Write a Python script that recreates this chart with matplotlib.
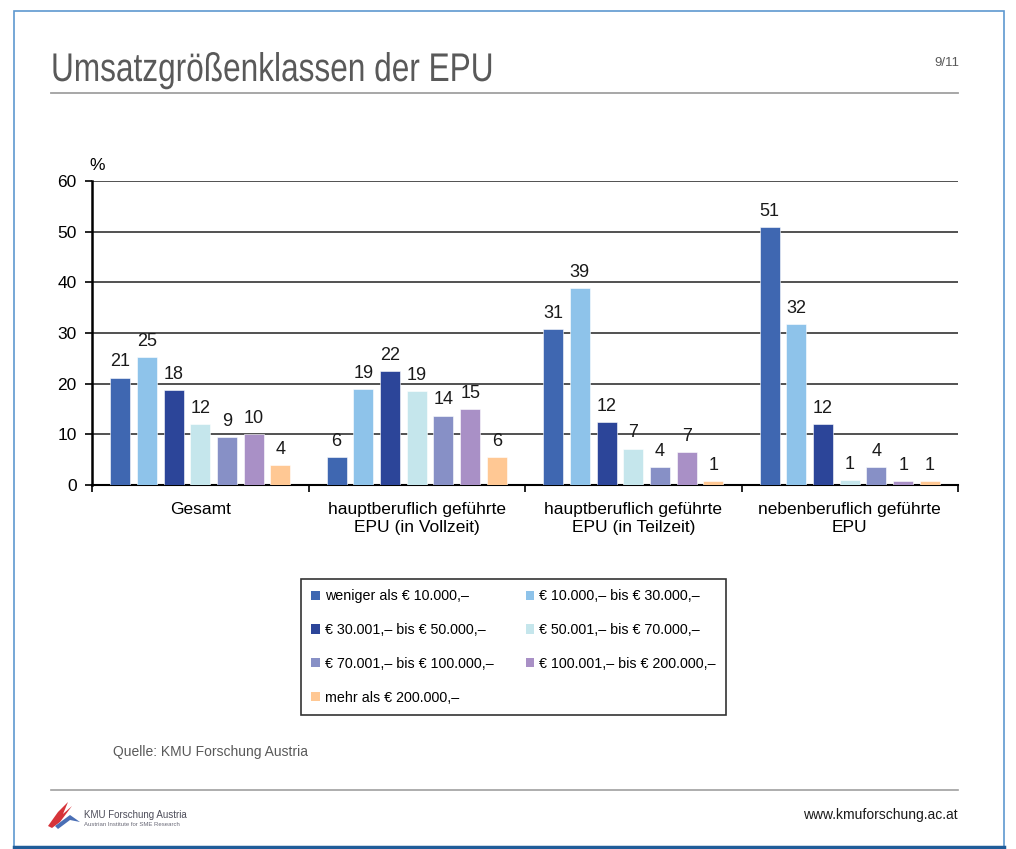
"""Umsatzgrößenklassen der EPU - grouped bar chart slide."""

import matplotlib.pyplot as plt
import numpy as np
from matplotlib.font_manager import FontProperties
from matplotlib.lines import Line2D
from matplotlib.patches import Patch, PathPatch, Polygon, Rectangle
from matplotlib.textpath import TextPath
from matplotlib.transforms import Affine2D

W, H = 1016, 849

GROUPS = [
    "Gesamt",
    "hauptberuflich geführte\nEPU (in Vollzeit)",
    "hauptberuflich geführte\nEPU (in Teilzeit)",
    "nebenberuflich geführte\nEPU",
]

SERIES_LABELS = [
    "weniger als € 10.000,–",
    "€ 10.000,– bis € 30.000,–",
    "€ 30.001,– bis € 50.000,–",
    "€ 50.001,– bis € 70.000,–",
    "€ 70.001,– bis € 100.000,–",
    "€ 100.001,– bis € 200.000,–",
    "mehr als € 200.000,–",
]

# bar heights (percent) per series, one value per group
LESS_10K = [21.2, 5.6, 30.7, 50.9]
FROM_10K_30K = [25.2, 18.9, 38.9, 31.7]
FROM_30K_50K = [18.7, 22.5, 12.4, 12.0]
FROM_50K_70K = [12.0, 18.6, 7.2, 0.9]
FROM_70K_100K = [9.5, 13.7, 3.6, 3.6]
FROM_100K_200K = [10.1, 15.0, 6.5, 0.7]
MORE_200K = [3.9, 5.6, 0.7, 0.7]

# rounded labels shown above the bars
LABELS = [
    [21, 6, 31, 51],
    [25, 19, 39, 32],
    [18, 22, 12, 12],
    [12, 19, 7, 1],
    [9, 14, 4, 4],
    [10, 15, 7, 1],
    [4, 6, 1, 1],
]

SERIES = [LESS_10K, FROM_10K_30K, FROM_30K_50K, FROM_50K_70K,
          FROM_70K_100K, FROM_100K_200K, MORE_200K]
COLORS = ["#3F67B1", "#8EC3EA", "#2C4599", "#C5E6EC",
          "#8790C6", "#A990C6", "#FFC894"]

plt.rcParams["font.family"] = ["Liberation Sans", "DejaVu Sans"]


def fx(x):
    return x / W


def fy(y):
    return 1 - y / H


fig = plt.figure(figsize=(W / 100, H / 100), dpi=100)
fig.patch.set_facecolor("white")

# slide frame
fig.add_artist(Rectangle((fx(14), fy(848)), fx(1004) - fx(14), fy(11) - fy(848),
                         transform=fig.transFigure, fill=False,
                         edgecolor="#5E98CF", linewidth=1.2))
fig.add_artist(Line2D([fx(14), fx(1004)], [fy(847), fy(847)],
                      transform=fig.transFigure, color="#1F5C99", linewidth=2.5))

# header: the slide uses a condensed face, so squeeze the outline horizontally
title_path = TextPath((0, 0), "Umsatzgrößenklassen der EPU", size=40,
                      prop=FontProperties(family="Liberation Sans"))
title_tr = Affine2D().scale(0.79, 1.0).translate(51, H - 81)
fig.add_artist(PathPatch(title_path, transform=title_tr, facecolor="#595959",
                         edgecolor="none"))
fig.text(fx(959), fy(66), "9/11", fontsize=9.5, color="#595959",
         ha="right", va="baseline")
fig.add_artist(Line2D([fx(51), fx(958)], [fy(93), fy(93)],
                      transform=fig.transFigure, color="#A0A0A0", linewidth=1.3))

# chart
ax = fig.add_axes([fx(92), fy(485), fx(958) - fx(92), fy(181) - fy(485)])
n = len(SERIES)
pitch = 0.1233
width = 0.092
centers = np.arange(len(GROUPS)) + 0.5
for i, (vals, color) in enumerate(zip(SERIES, COLORS)):
    xs = centers + (i - (n - 1) / 2) * pitch
    ax.bar(xs, vals, width=width, color=color, edgecolor="white",
           linewidth=0.4, zorder=3)
    for x, v, lab in zip(xs, vals, LABELS[i]):
        ax.annotate(str(lab), (x, v), xytext=(0, 8), textcoords="offset points",
                    ha="center", va="baseline", fontsize=13, color="#1A1A1A")

ax.set_xlim(0, len(GROUPS))
ax.set_ylim(0, 60)
ax.set_yticks(range(0, 61, 10))
ax.set_yticklabels([str(t) for t in range(0, 61, 10)], fontsize=12.5)
for t in range(10, 61, 10):
    ax.axhline(t, color="#333333", linewidth=1.2, zorder=1)
ax.set_xticks(range(len(GROUPS) + 1))
ax.set_xticklabels([])
ax.set_xticks(centers, minor=True)
ax.set_xticklabels(GROUPS, minor=True, fontsize=12.5, linespacing=1.3)
ax.tick_params(axis="x", which="major", length=5, width=1.2, direction="out")
ax.tick_params(axis="x", which="minor", length=0, pad=12)
ax.tick_params(axis="y", length=5, width=1.2, pad=6)
for s in ("top", "right"):
    ax.spines[s].set_visible(False)
ax.spines["left"].set_linewidth(1.8)
ax.spines["bottom"].set_linewidth(1.5)
ax.set_facecolor("none")
fig.text(fx(97), fy(170), "%", fontsize=12.5, ha="center", va="baseline")

# legend, filled row by row
handles = [Patch(facecolor=c, edgecolor="none") for c in COLORS]
order = [0, 2, 4, 6, 1, 3, 5]
leg = fig.legend([handles[i] for i in order], [SERIES_LABELS[i] for i in order],
                 ncol=2, loc="upper left", bbox_to_anchor=(fx(301), fy(579)),
                 fontsize=10.3, frameon=True, fancybox=False, edgecolor="black",
                 handlelength=0.6, handleheight=0.6, handletextpad=0.35,
                 labelspacing=1.38, columnspacing=2.25, borderpad=0.72,
                 borderaxespad=0)
leg.get_frame().set_linewidth(1.2)

# footer
fig.text(fx(113), fy(756), "Quelle: KMU Forschung Austria", fontsize=10,
         color="#595959", va="baseline")
fig.add_artist(Line2D([fx(51), fx(958)], [fy(790), fy(790)],
                      transform=fig.transFigure, color="#A0A0A0", linewidth=1.2))
fig.text(fx(958), fy(819), "www.kmuforschung.ac.at", fontsize=10,
         color="#1A1A1A", ha="right", va="baseline")

# logo: stylised swooshes with company name
red = [(48, 826), (58, 812), (68, 802), (63, 814), (72, 806), (60, 822), (52, 828)]
blue = [(55, 826), (70, 815), (80, 822), (70, 820), (58, 829)]
fig.add_artist(Polygon([(fx(x), fy(y)) for x, y in red], closed=True,
                       transform=fig.transFigure, facecolor="#D6343A", edgecolor="none"))
fig.add_artist(Polygon([(fx(x), fy(y)) for x, y in blue], closed=True,
                       transform=fig.transFigure, facecolor="#4A6FB5", edgecolor="none"))
fig.text(fx(84), fy(818), "KMU Forschung Austria", fontsize=7, color="#4D4D5A",
         va="baseline")
fig.text(fx(84), fy(826), "Austrian Institute for SME Research", fontsize=4.3,
         color="#6A6A78", va="baseline")

fig.savefig("out.png", dpi=100)
